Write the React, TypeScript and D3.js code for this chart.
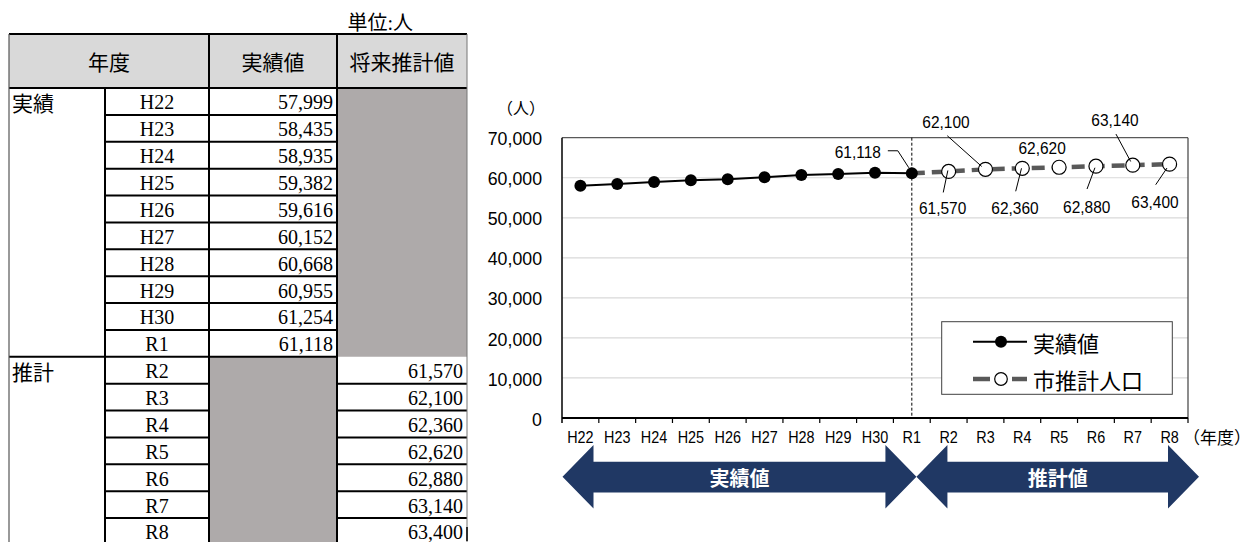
import React from 'react';
import * as d3 from 'd3';

// ---------- data ----------
const years = ['H22', 'H23', 'H24', 'H25', 'H26', 'H27', 'H28', 'H29', 'H30', 'R1', 'R2', 'R3', 'R4', 'R5', 'R6', 'R7', 'R8'];
const actualYears = ['H22', 'H23', 'H24', 'H25', 'H26', 'H27', 'H28', 'H29', 'H30', 'R1'];
const actualValues = [57999, 58435, 58935, 59382, 59616, 60152, 60668, 60955, 61254, 61118];
const forecastYears = ['R2', 'R3', 'R4', 'R5', 'R6', 'R7', 'R8'];
const forecastValues = [61570, 62100, 62360, 62620, 62880, 63140, 63400];
const yTickValues = [0, 10000, 20000, 30000, 40000, 50000, 60000, 70000];
const tableHeaders = ['年度', '実績値', '将来推計値'];
const sectionLabels = ['実績', '推計'];
const seriesNames = ['実績値', '市推計人口'];
const arrowLabels = ['実績値', '推計値'];
const unitLabel = '単位:人';
const yUnitLabel = '（人）';
const xUnitLabel = '（年度）';

// label placement offsets relative to the point (layout only)
const labelLayout: Record<string, { dx: number; dy: number; leader?: number[][] }> = {
  R1: { dx: -54, dy: -22, leader: [[-24, -22.5], [-14, -22.5], [-3, -5.5]] },
  R2: { dx: -6, dy: 36.5, leader: [[-5.4, 21], [-0.8, -1]] },
  R3: { dx: -39.5, dy: -48, leader: [[-38.2, -33.6], [-3.8, -2.9]] },
  R4: { dx: -7.3, dy: 39.5, leader: [[-6.6, 23], [-0.8, 0]] },
  R5: { dx: -17, dy: -19.5 },
  R6: { dx: -9.2, dy: 40.2, leader: [[-8.9, 22.8], [-1, 1.5]] },
  R7: { dx: -17.8, dy: -45.4, leader: [[-16.8, -31.1], [-2.1, -3.7]] },
  R8: { dx: -14.6, dy: 37.3, leader: [[-13.9, 20.6], [-2.6, 3.9]] },
};

const W = 1255;
const H = 542;
const P = { left: 562, right: 1188, top: 137.7, bottom: 418 };

const SANS = "'Liberation Sans', Arial, 'Noto Sans CJK JP', sans-serif";
const CJK = "'Noto Sans CJK JP', 'Liberation Sans', sans-serif";
const SERIF = "'Liberation Serif', 'Noto Sans CJK JP', serif";

const fmt = d3.format(',');

// condensed text helper
function CT(props: { x: number; y: number; sx: number; size: number; anchor?: string; family?: string; children: React.ReactNode }) {
  const { x, y, sx, size, anchor = 'middle', family = SANS, children } = props;
  return (
    <text transform={`translate(${x},${y}) scale(${sx},1)`} textAnchor={anchor} dominantBaseline="central" fontFamily={family} fontSize={size} fill="#000">
      {children}
    </text>
  );
}

function Table() {
  const cols = [9, 105, 209, 337, 467];
  const hTop = 34;
  const hBot = 88;
  const rowH = (518 - hBot) / 16;
  const rowY = (i: number) => hBot + i * rowH;
  const nA = actualYears.length;
  const nRows = years.length;
  const shade = '#aeaaaa';
  const lines: JSX.Element[] = [];
  for (let i = 1; i < nRows; i++) {
    const yy = rowY(i);
    if (i < nA) {
      lines.push(<line key={'h' + i} x1={cols[1]} x2={cols[3]} y1={yy} y2={yy} stroke="#000" strokeWidth={2} />);
    } else if (i === nA) {
      lines.push(<line key={'h' + i} x1={cols[0]} x2={cols[3]} y1={yy} y2={yy} stroke="#000" strokeWidth={2} />);
    } else {
      lines.push(<line key={'ha' + i} x1={cols[1]} x2={cols[2]} y1={yy} y2={yy} stroke="#000" strokeWidth={2} />);
      lines.push(<line key={'hb' + i} x1={cols[3]} x2={cols[4]} y1={yy} y2={yy} stroke="#000" strokeWidth={2} />);
    }
  }
  const ty = (i: number) => rowY(i) + rowH / 2 + 1;
  return (
    <g>
      <text x={413} y={23} textAnchor="end" dominantBaseline="central" fontFamily={SERIF} fontSize={20}>{unitLabel}</text>
      <rect x={cols[0]} y={hTop} width={cols[4] - cols[0]} height={hBot - hTop} fill="#d9d9d9" />
      <rect x={cols[3]} y={rowY(0)} width={cols[4] - cols[3]} height={rowY(nA) - rowY(0)} fill={shade} />
      <rect x={cols[2]} y={rowY(nA)} width={cols[3] - cols[2]} height={H - rowY(nA) + 10} fill={shade} />
      {lines}
      <line x1={cols[0]} x2={cols[4]} y1={hTop} y2={hTop} stroke="#000" strokeWidth={2} />
      <line x1={cols[0]} x2={cols[4]} y1={hBot} y2={hBot} stroke="#000" strokeWidth={2} />
      <line x1={cols[0]} x2={cols[0]} y1={hTop} y2={H + 5} stroke="#555" strokeWidth={1.2} />
      <line x1={cols[4]} x2={cols[4]} y1={hTop} y2={H + 5} stroke="#777" strokeWidth={1} />
      <line x1={cols[4]} x2={cols[4]} y1={527} y2={541} stroke="#000" strokeWidth={1.5} />
      <line x1={cols[1]} x2={cols[1]} y1={hBot} y2={H + 5} stroke="#000" strokeWidth={2} />
      <line x1={cols[2]} x2={cols[2]} y1={hTop} y2={H + 5} stroke="#000" strokeWidth={2} />
      <line x1={cols[3]} x2={cols[3]} y1={hTop} y2={H + 5} stroke="#000" strokeWidth={2} />
      <text x={(cols[0] + cols[2]) / 2} y={61} textAnchor="middle" dominantBaseline="central" fontFamily={CJK} fontSize={21}>{tableHeaders[0]}</text>
      <text x={(cols[2] + cols[3]) / 2} y={61} textAnchor="middle" dominantBaseline="central" fontFamily={CJK} fontSize={21}>{tableHeaders[1]}</text>
      <text x={(cols[3] + cols[4]) / 2} y={61} textAnchor="middle" dominantBaseline="central" fontFamily={CJK} fontSize={21}>{tableHeaders[2]}</text>
      <text x={12} y={ty(0)} dominantBaseline="central" fontFamily={CJK} fontSize={21}>{sectionLabels[0]}</text>
      <text x={12} y={ty(nA)} dominantBaseline="central" fontFamily={CJK} fontSize={21}>{sectionLabels[1]}</text>
      {years.map((yr, i) => (
        <text key={'yr' + yr} x={(cols[1] + cols[2]) / 2} y={ty(i)} textAnchor="middle" dominantBaseline="central" fontFamily={SERIF} fontSize={20}>{yr}</text>
      ))}
      {actualValues.map((v, i) => (
        <text key={'av' + i} x={cols[3] - 4} y={ty(i)} textAnchor="end" dominantBaseline="central" fontFamily={SERIF} fontSize={20}>{fmt(v)}</text>
      ))}
      {forecastValues.map((v, i) => (
        <text key={'fv' + i} x={cols[4] - 4} y={ty(nA + i)} textAnchor="end" dominantBaseline="central" fontFamily={SERIF} fontSize={20}>{fmt(v)}</text>
      ))}
    </g>
  );
}

function Chart() {
  const x = d3.scaleBand<string>().domain(years).range([P.left, P.right]).paddingInner(0).paddingOuter(0);
  const cx = (k: string) => (x(k) as number) + x.bandwidth() / 2;
  const y = d3.scaleLinear().domain([0, 70000]).range([P.bottom, P.top]);

  const actualPts = actualYears.map((k, i) => ({ k, v: actualValues[i] }));
  const lastActual = actualPts[actualPts.length - 1];
  const forecastPts = [lastActual, ...forecastYears.map((k, i) => ({ k, v: forecastValues[i] }))];
  const line = d3.line<{ k: string; v: number }>().x(d => cx(d.k)).y(d => y(d.v));

  const labeled = [lastActual, ...forecastPts.slice(1)];

  const arrowCy = 476.7;
  const arrowTop = 445;
  const arrowBot = 508.5;
  const shaftTop = 461.7;
  const shaftBot = 492.5;
  const head = 31;
  const arrowPath = (x0: number, x1: number) =>
    `M${x0},${arrowCy}L${x0 + head},${arrowTop}L${x0 + head},${shaftTop}L${x1 - head},${shaftTop}L${x1 - head},${arrowTop}L${x1},${arrowCy}L${x1 - head},${arrowBot}L${x1 - head},${shaftBot}L${x0 + head},${shaftBot}L${x0 + head},${arrowBot}Z`;
  const split = cx('R1') + 4.6;
  const arrows = [
    { x0: P.left + 0.5, x1: split, label: arrowLabels[0] },
    { x0: split, x1: P.right + 11, label: arrowLabels[1] },
  ];

  return (
    <g>
      {yTickValues.filter(t => t > 0 && t < 70000).map(t => (
        <line key={'g' + t} x1={P.left} x2={P.right} y1={y(t)} y2={y(t)} stroke="#d9d9d9" strokeWidth={1.2} />
      ))}
      <line x1={P.left} x2={P.right} y1={P.top} y2={P.top} stroke="#595959" strokeWidth={1.2} />
      <line x1={P.right} x2={P.right} y1={P.top} y2={P.bottom} stroke="#404040" strokeWidth={1.2} />
      <line x1={P.left} x2={P.left} y1={P.top} y2={P.bottom + 5} stroke="#000" strokeWidth={1.5} />
      <line x1={P.left} x2={P.right} y1={P.bottom} y2={P.bottom} stroke="#000" strokeWidth={2} />
      {years.map(k => (
        <line key={'t' + k} x1={(x(k) as number) + x.bandwidth()} x2={(x(k) as number) + x.bandwidth()} y1={P.bottom} y2={P.bottom + 5} stroke="#000" strokeWidth={1.2} />
      ))}
      {yTickValues.map(t => (
        <CT key={'yl' + t} x={542} y={y(t) + 1.5} sx={0.96} size={18.5} anchor="end">{fmt(t)}</CT>
      ))}
      <text x={521} y={107} textAnchor="middle" dominantBaseline="central" fontFamily={CJK} fontSize={16}>{yUnitLabel}</text>
      {years.map(k => (
        <CT key={'xl' + k} x={cx(k)} y={437.5} sx={0.9} size={16}>{k}</CT>
      ))}
      <text x={1217} y={436.7} textAnchor="middle" dominantBaseline="central" fontFamily={CJK} fontSize={17}>{xUnitLabel}</text>
      <line x1={cx('R1')} x2={cx('R1')} y1={P.top} y2={P.bottom} stroke="#000" strokeWidth={1} strokeDasharray="3,2" />
      <path d={line(forecastPts) || ''} fill="none" stroke="#595959" strokeWidth={4.5} strokeDasharray="13,7" />
      <path d={line(actualPts) || ''} fill="none" stroke="#000" strokeWidth={2} />
      {actualPts.map(d => (
        <circle key={'a' + d.k} cx={cx(d.k)} cy={y(d.v)} r={6} fill="#000" />
      ))}
      {forecastPts.slice(1).map(d => (
        <circle key={'f' + d.k} cx={cx(d.k)} cy={y(d.v)} r={7} fill="#fff" stroke="#000" strokeWidth={1.2} />
      ))}
      {labeled.map(d => {
        const L = labelLayout[d.k];
        if (!L) return null;
        const px = cx(d.k);
        const py = y(d.v);
        return (
          <g key={'lab' + d.k}>
            {L.leader && (
              <polyline points={L.leader.map(p => `${px + p[0]},${py + p[1]}`).join(' ')} fill="none" stroke="#000" strokeWidth={1} />
            )}
            <CT x={px + L.dx} y={py + L.dy} sx={0.91} size={17}>{fmt(d.v)}</CT>
          </g>
        );
      })}
      <rect x={941.7} y={321.7} width={230.6} height={72.6} fill="#fff" stroke="#404040" strokeWidth={1} />
      <line x1={973} x2={1027} y1={341.7} y2={341.7} stroke="#000" strokeWidth={2} />
      <circle cx={1001} cy={341.7} r={6} fill="#000" />
      <text x={1033} y={342} dominantBaseline="central" fontFamily={CJK} fontSize={22}>{seriesNames[0]}</text>
      <line x1={973} x2={990} y1={379} y2={379} stroke="#595959" strokeWidth={4.5} />
      <line x1={1012} x2={1027} y1={379} y2={379} stroke="#595959" strokeWidth={4.5} />
      <circle cx={1001} cy={379} r={6.3} fill="#fff" stroke="#000" strokeWidth={1.2} />
      <text x={1033} y={379} dominantBaseline="central" fontFamily={CJK} fontSize={22}>{seriesNames[1]}</text>
      {arrows.map(a => (
        <g key={'arr' + a.label}>
          <path d={arrowPath(a.x0, a.x1)} fill="#203864" />
          <text x={(a.x0 + a.x1) / 2} y={arrowCy + 1} textAnchor="middle" dominantBaseline="central" fontFamily={CJK} fontWeight="bold" fontSize={20} fill="#fff">{a.label}</text>
        </g>
      ))}
    </g>
  );
}

export default function App() {
  return (
    <svg width={W} height={H} viewBox={`0 0 ${W} ${H}`} style={{ position: 'absolute', left: 0, top: 0, background: '#fff' }}>
      <rect x={0} y={0} width={W} height={H} fill="#fff" />
      <Table />
      <Chart />
    </svg>
  );
}
